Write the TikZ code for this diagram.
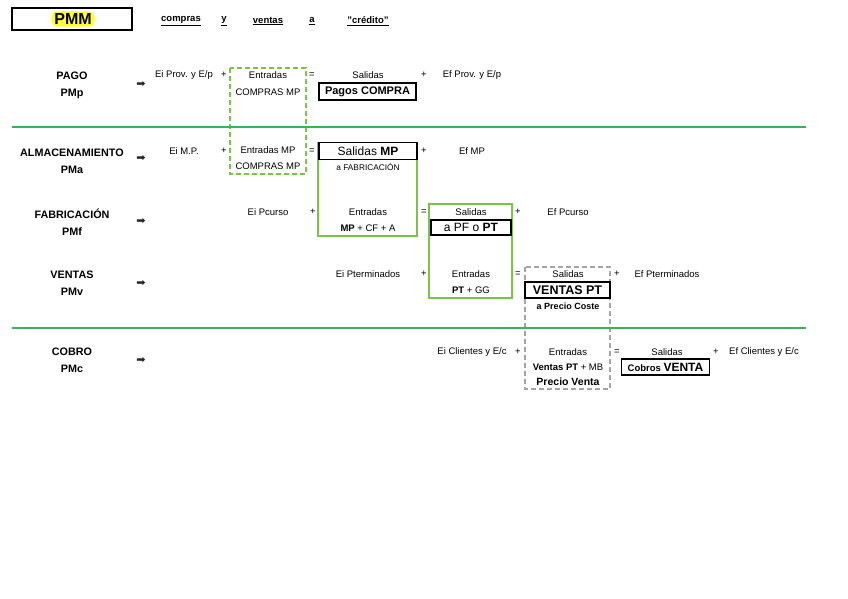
\documentclass[tikz,border=0pt]{standalone}
\usepackage{fontspec}
\setmainfont{Liberation Sans}
\newfontfamily\arrowfont{DejaVu Sans}
\usetikzlibrary{positioning}
\definecolor{pmmgreen}{HTML}{7CC444}
\definecolor{pmmline}{HTML}{35B45C}
\definecolor{pmmgray}{HTML}{A5A5A5}
\definecolor{pmmyellow}{HTML}{FFFF2E}

\begin{document}
\begin{tikzpicture}[
  x=1pt,
  y=-1pt,
  txt/.style={font=\fontsize{9.5}{10}\selectfont,inner sep=0pt},
  small/.style={font=\fontsize{8.3}{9}\selectfont,inner sep=0pt},
  head/.style={font=\bfseries\fontsize{9.5}{10}\selectfont,inner sep=0pt},
  stage/.style={font=\bfseries\fontsize{10.8}{17}\selectfont,align=center,inner sep=0pt},
  arr/.style={font=\arrowfont\fontsize{11}{12}\selectfont,text=black!85,inner sep=0pt},
  result/.style={draw,line width=1.5pt,inner sep=0pt},
  flowbox/.style={draw=pmmgreen,line width=2pt},
  flowdash/.style={draw=pmmgreen,line width=1.6pt,dash pattern=on 5pt off 3pt},
  costdash/.style={draw=pmmgray,line width=1.4pt,dash pattern=on 5pt off 3pt},
  sep/.style={draw=pmmline,line width=1.4pt}
]
  \useasboundingbox (0,0) rectangle (848,599);

  % Title and heading words
  \draw[line width=2pt] (12,8) rectangle (132,30);
  \node[fill=pmmyellow,rounded corners=6pt,inner xsep=3pt,inner ysep=2pt,
        font=\bfseries\fontsize{16}{17}\selectfont] (pmm) at (73,19) {PMM};
  \node[head] (hcompras) at (181,21) {\underline{compras}};
  \node[head] (hy) at (224,21) {\underline{y}};
  \node[head] (hventas) at (268,21) {\underline{ventas}};
  \node[head] (ha) at (312,21) {\underline{a}};
  \node[head] (hcredito) at (368,21) {\underline{"crédito"}};

  % Boxes that tie the periods together
  \path[flowdash] (230,68) rectangle (306,174);
  \path[flowbox] (318,143) rectangle (417,236);
  \path[flowbox] (429,204) rectangle (512,298);
  \path[costdash] (525,267) rectangle (610,389);

  % Separators
  \coordinate (sepAw) at (12,127);
  \coordinate (sepAe) at (806,127);
  \coordinate (sepBw) at (12,328);
  \coordinate (sepBe) at (806,328);
  \draw[sep] (sepAw) -- (sepAe);
  \draw[sep] (sepBw) -- (sepBe);

  % PAGO
  \node[stage] (pago) at (72,85) {PAGO\\PMp};
  \node[arr] (pagoarr) at (141,84) {➡};
  \node[txt] (pagoei) at (184,75) {Ei Prov. y E/p};
  \node[txt] (pagop1) at (224,75) {+};
  \node[txt] (pagoent) at (268,75) {Entradas};
  \node[txt] (pagocomp) at (268,92) {COMPRAS MP};
  \node[txt] (pagoeq) at (312,75) {=};
  \node[txt] (pagosal) at (368,75) {Salidas};
  \node[result,minimum width=97pt,minimum height=17pt,
        font=\bfseries\fontsize{11}{12}\selectfont] (pagores) at (367.5,91.5) {Pagos COMPRA};
  \node[txt] (pagop2) at (424,75) {+};
  \node[txt] (pagoef) at (472,75) {Ef Prov. y E/p};

  % ALMACENAMIENTO
  \node[stage] (alm) at (72,161) {ALMACENAMIENTO\\PMa};
  \node[arr] (almarr) at (141,158) {➡};
  \node[txt] (almei) at (184,151) {Ei M.P.};
  \node[txt] (almp1) at (224,151) {+};
  \node[txt] (alment) at (268,150) {Entradas MP};
  \node[txt] (almcomp) at (268,166) {COMPRAS MP};
  \node[txt] (almeq) at (312,151) {=};
  \node[result,fill=white,minimum width=98pt,minimum height=17pt,
        font=\fontsize{12}{13}\selectfont] (almres) at (368,151) {Salidas \textbf{MP}};
  \node[small] (almfab) at (368,167) {a FABRICACIÓN};
  \node[txt] (almp2) at (424,151) {+};
  \node[txt] (almef) at (472,151) {Ef MP};

  % FABRICACION
  \node[stage] (fab) at (72,222) {FABRICACIÓN\\PMf};
  \node[arr] (fabarr) at (141,221) {➡};
  \node[txt] (fabei) at (268,212) {Ei Pcurso};
  \node[txt] (fabp1) at (313,212) {+};
  \node[txt] (fabent) at (368,212) {Entradas};
  \node[txt] (fabmp) at (368,228) {\textbf{MP} + CF + A};
  \node[txt] (fabeq) at (424,212) {=};
  \node[txt] (fabsal) at (471,212) {Salidas};
  \node[result,minimum width=80pt,minimum height=15pt,
        font=\fontsize{12}{13}\selectfont] (fabres) at (471,227.5) {a PF o \textbf{PT}};
  \node[txt] (fabp2) at (518,212) {+};
  \node[txt] (fabef) at (568,212) {Ef Pcurso};

  % VENTAS
  \node[stage] (ven) at (72,283.5) {VENTAS\\PMv};
  \node[arr] (venarr) at (141,283) {➡};
  \node[txt] (venei) at (368,274) {Ei Pterminados};
  \node[txt] (venp1) at (424,274) {+};
  \node[txt] (vent) at (471,274) {Entradas};
  \node[txt] (venpt) at (471,290) {\textbf{PT} + GG};
  \node[txt] (veneq) at (518,274) {=};
  \node[txt] (vensal) at (568,274) {Salidas};
  \node[result,minimum width=85pt,minimum height=16pt,
        font=\bfseries\fontsize{12.5}{13}\selectfont] (venres) at (567.5,290) {VENTAS PT};
  \node[txt,font=\bfseries\fontsize{9}{10}\selectfont] (vencoste) at (568,306) {a Precio Coste};
  \node[txt] (venp2) at (617,274) {+};
  \node[txt] (venef) at (667,274) {Ef Pterminados};

  % COBRO
  \node[stage] (cob) at (72,360) {COBRO\\PMc};
  \node[arr] (cobarr) at (141,360) {➡};
  \node[txt] (cobei) at (472,352) {Ei Clientes y E/c};
  \node[txt] (cobp1) at (518,352) {+};
  \node[txt] (cobent) at (568,352) {Entradas};
  \node[txt] (cobvpt) at (568,367) {\textbf{Ventas PT} + MB};
  \node[txt,font=\bfseries\fontsize{10.5}{11}\selectfont] (cobpv) at (568,382) {Precio Venta};
  \node[txt] (cobeq) at (617,352) {=};
  \node[txt] (cobsal) at (667,352) {Salidas};
  \node[result,minimum width=88pt,minimum height=16pt] (cobres) at (665.5,367)
       {\bfseries\fontsize{9.5}{11}\selectfont Cobros \fontsize{12}{13}\selectfont VENTA};
  \node[txt] (cobp2) at (716,352) {+};
  \node[txt] (cobef) at (764,352) {Ef Clientes y E/c};
\end{tikzpicture}
\end{document}
